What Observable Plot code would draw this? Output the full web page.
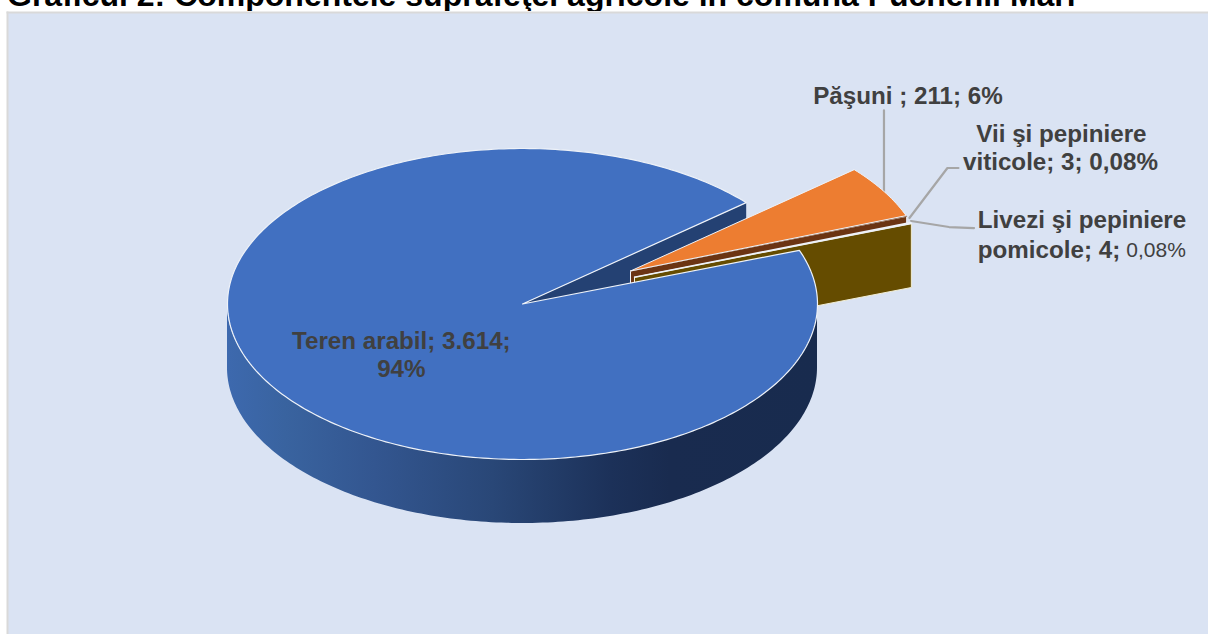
<!DOCTYPE html>
<html lang="ro">
<head>
<meta charset="utf-8">
<script src="https://cdn.jsdelivr.net/npm/d3@7"></script>
<script src="https://cdn.jsdelivr.net/npm/@observablehq/plot@0.6"></script>
<style>
html,body{margin:0;padding:0;background:#fff;overflow:hidden;width:1208px;height:634px}
#title{position:relative;height:11px;overflow:hidden}
#title span{position:absolute;left:7px;bottom:0;font:bold 32px/32px "Liberation Sans",Arial,sans-serif;white-space:nowrap;color:#000}
svg{display:block}
</style>
</head>
<body>
<div id="title"><span>Graficul 2: Componentele suprafeţei agricole în comuna Puchenii Mari</span></div>
<div id="chart"></div>
<script>
// Data
const categories = ["Teren arabil", "Păşuni", "Vii şi pepiniere viticole", "Livezi şi pepiniere pomicole"];
const values = [3614, 211, 3, 4];
const valueLabels = ["3.614", "211", "3", "4"];
const shares = ["94%", "6%", "0,08%", "0,08%"];

// Styles
const topColors = ["#4170c1", "#ed7d31", "#6b3413", "#806000"];
const wallColors = ["#244173", "#a5521c", "#6b3413", "#654c00"];
const edge = "#eef2f8";
const textColor = "#404040";
const fontFamily = "'Liberation Sans', Arial, sans-serif";

// 3-D pie layout
const pie3d = {cx: 522, cy: 303.5, rx: 295, ry: 155.5, depth: 64, start: 69.8};
const shift = [[0, 0], [108, -33], [108, -33], [112, -26.8]];

const arcs = d3.pie().sort(null).value(d => d)
  .startAngle(pie3d.start * Math.PI / 180)
  .endAngle((pie3d.start + 360) * Math.PI / 180)(values);

const rim = (i, a, k = 1) => ({
  x: pie3d.cx + shift[i][0] + k * pie3d.rx * Math.sin(a),
  y: pie3d.cy + shift[i][1] - k * pie3d.ry * Math.cos(a)
});
const down = p => ({x: p.x, y: p.y + pie3d.depth});
const apex = i => rim(i, 0, 0);
const arcPoints = i => {
  const {startAngle: a0, endAngle: a1} = arcs[i];
  const n = Math.max(2, Math.ceil((a1 - a0) * 180 / Math.PI));
  return d3.range(n + 1).map(j => rim(i, a0 + (a1 - a0) * j / n));
};
const topFace = i => [apex(i), ...arcPoints(i), apex(i)];
const cutWall = (i, a) => [apex(i), rim(i, a), down(rim(i, a)), down(apex(i)), apex(i)];
const poly = (pts, fill, stroke = edge, strokeWidth = 1) =>
  Plot.line(pts, {x: "x", y: "y", fill, stroke, strokeWidth, curve: "linear", strokeLinejoin: "round"});

// Outer wall of the big slice (front half of the ellipse)
const frontWall = d3.range(90, 271, 1).map(d => {
  const p = rim(0, d * Math.PI / 180);
  return {x: p.x, y1: p.y, y2: p.y + pie3d.depth};
});

const defs = () => {
  const d = d3.create("svg:defs");
  const g = d.append("linearGradient").attr("id", "wallGrad");
  [[0, "#3d69ae"], [.1, "#39639f"], [.25, "#335690"], [.45, "#294777"], [.65, "#1c3159"], [.75, "#192b4f"], [1, "#182b4e"]]
    .forEach(([o, c]) => g.append("stop").attr("offset", o).attr("stop-color", c));
  return d.node();
};

// Labels and leaders anchored on their slices
const mid = i => (arcs[i].startAngle + arcs[i].endAngle) / 2;
const anchors = [rim(0, mid(0), 0.5), rim(1, mid(1)), rim(2, mid(2)), rim(3, mid(3))];
const at = (i, dx, dy) => ({x: anchors[i].x + dx, y: anchors[i].y + dy});

const boldLines = [
  {...at(0, 6, -2),   text: `${categories[0]}; ${valueLabels[0]};`},
  {...at(0, 6, 26),   text: shares[0]},
  {...at(1, 24, -95), text: `${categories[1]} ; ${valueLabels[1]}; ${shares[1]}`},
  {...at(2, 155, -82), text: "Vii şi pepiniere"},
  {...at(2, 154, -54), text: `viticole; ${valueLabels[2]}; ${shares[2]}`},
  {...at(3, 171, -3), text: "Livezi şi pepiniere"},
  {...at(3, 138, 27), text: `pomicole; ${valueLabels[3]};`}
];
const lastSmall = {...at(3, 245, 27), text: shares[3]};

const leaders = [
  [at(1, 0, 1), at(1, 0, -81)],
  [at(2, 3, 2), at(2, 41, -48), at(2, 52, -48)],
  [at(3, 0, -2), at(3, 38, 4), at(3, 63, 5)]
];

const chart = Plot.plot({
  width: 1208, height: 623,
  marginLeft: 7, marginTop: 1, marginRight: 0, marginBottom: 0,
  x: {domain: [0, 1208], range: [0, 1208], axis: null},
  y: {domain: [11, 634], range: [0, 623], axis: null},
  style: {background: "#fff", fontFamily},
  marks: [
    defs,
    Plot.frame({fill: "#dae3f3", stroke: "none"}),
    Plot.frame({anchor: "left", stroke: "#d9d9d9", strokeWidth: 2}),
    Plot.frame({anchor: "top", stroke: "#d9d9d9", strokeWidth: 2}),
    // Leaders
    ...leaders.map(l => Plot.line(l, {x: "x", y: "y", stroke: "#a6a6a6", strokeWidth: 2.2, curve: "linear"})),
    // Back cut of the big slice
    poly(cutWall(0, arcs[0].endAngle), wallColors[0], "none"),
    // Exploded slices, back to front
    poly(cutWall(2, arcs[2].endAngle), wallColors[2], edge, 1),
    poly(topFace(2), topColors[2], topColors[2], 0.5),
    poly(topFace(1), topColors[1], edge, 1),
    poly(cutWall(3, arcs[3].endAngle), wallColors[3], "#f3efd6", 1),
    poly(topFace(3), topColors[3], edge, 1.4),
    // Big slice
    Plot.areaY(frontWall, {x: "x", y1: "y1", y2: "y2", fill: "url(#wallGrad)", curve: "linear"}),
    poly(topFace(0), topColors[0], edge, 1.2),
    // Labels
    Plot.text(boldLines, {x: "x", y: "y", text: "text", fontSize: 24.2, fontWeight: "bold", fill: textColor}),
    Plot.text([lastSmall], {x: "x", y: "y", text: "text", fontSize: 21, fill: textColor})
  ]
});
document.getElementById("chart").appendChild(chart);
</script>
</body>
</html>
